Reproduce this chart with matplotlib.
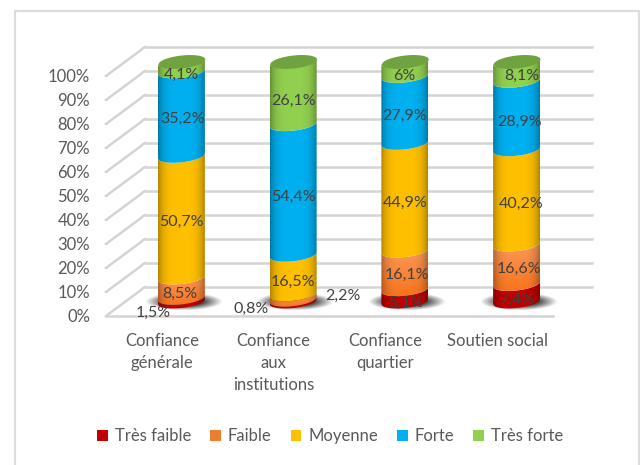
import matplotlib
matplotlib.use('Agg')
import matplotlib.pyplot as plt
from matplotlib.colors import to_rgb
from matplotlib.patches import Polygon, Rectangle
from matplotlib.lines import Line2D
import numpy as np

plt.rcParams['font.family'] = ['Lato', 'DejaVu Sans']

categories = ['Confiance\ngénérale', 'Confiance\naux\ninstitutions', 'Confiance\nquartier', 'Soutien social']
levels = ['Très faible', 'Faible', 'Moyenne', 'Forte', 'Très forte']
tres_faible = [1.5, 0.8, 5.1, 7.4]
faible = [8.5, 2.2, 16.1, 16.6]
moyenne = [50.7, 16.5, 44.9, 40.2]
forte = [35.2, 54.4, 27.9, 28.9]
tres_forte = [4.1, 26.1, 6.0, 8.1]
labels = [['1,5%', '0,8%', '5,1%', '7,4%'],
          ['8,5%', '2,2%', '16,1%', '16,6%'],
          ['50,7%', '16,5%', '44,9%', '40,2%'],
          ['35,2%', '54,4%', '27,9%', '28,9%'],
          ['4,1%', '26,1%', '6%', '8,1%']]
colors = ['#c00000', '#ed7d31', '#ffc000', '#00b0f0', '#92d050']
text_color = '#595959'
label_color = '#404040'
grid_color = '#d4d4d4'

# label shift from segment middle, pixels (one row per level)
label_shift = [[(-28, -13), (-42, -8), (1, -8), (0, -7)],
               [(-2, -6), (50, 1), (2, -5), (2, -5)],
               [(0, -5), (0, -7), (0, -6), (5, -7)],
               [(1, -5), (0, -7), (0, -7), (3, -7)],
               [(0, -8), (0, -8), (-1, -7), (5, -5)]]

W, H = 640, 465
# front plane of the 3d box, pixels
left, right, top, bottom = 106, 553, 76, 316
fig = plt.figure(figsize=(W / 100, H / 100), dpi=100)
ax = fig.add_axes([left / W, 1 - bottom / H, (right - left) / W, (bottom - top) / H])
ax.set_xlim(0, 4)
ax.set_ylim(0, 100)
ax.axis('off')

px = 4 / (right - left)
py = 100 / (bottom - top)
depth_x = 39 * px
depth_y = 29 * py
radius = 23.5 * px
half_h = 6.5 * py
tilt = 2.5 * py

# outer frame, open at the bottom
frame_x = [14.5 / W, 14.5 / W, 638.5 / W, 638.5 / W]
frame_y = [0, 1 - 11.5 / H, 1 - 11.5 / H, 0]
fig.add_artist(Line2D(frame_x, frame_y, color='#dcdcdc', lw=1.6, zorder=-5))

# floor and back wall gridlines
for v in range(0, 101, 10):
    ax.plot([0, depth_x], [v, v + depth_y], color=grid_color, lw=1.8, clip_on=False, zorder=1)
    ax.plot([depth_x, 4 + depth_x], [v + depth_y, v + depth_y], color=grid_color, lw=1.8, clip_on=False, zorder=1)
    ax.text(-16 * px, v - 0.5, f'{v}%', ha='right', va='center', color=text_color, fontsize=12, clip_on=False)
ax.plot([0, 4], [0, 0], color=grid_color, lw=1.8, clip_on=False, zorder=1)

values = np.array([tres_faible, faible, moyenne, forte, tres_forte], dtype=float)
values = values / values.sum(axis=0) * 100


def arc(xc, yc, x, lower=True):
    t = (x - xc) / radius
    s = np.sqrt(np.clip(1 - t ** 2, 0, 1)) * half_h
    return yc + t * tilt + (-s if lower else s)


def segment(xc, y0, y1, color, zorder):
    x = np.linspace(xc - radius, xc + radius, 60)
    low = arc(xc, y0, x, True)
    up = arc(xc, y1, x, True)
    poly = Polygon(np.r_[np.c_[x, low], np.c_[x[::-1], up[::-1]]], closed=True, fc='none', ec='none', zorder=zorder)
    ax.add_patch(poly)
    # shading, darker at the sides of the cylinder
    t = np.linspace(-1, 1, 60)
    shade = 1 - 0.3 * np.abs(t) ** 4
    img = np.array(to_rgb(color))[None, None, :] * shade[None, :, None]
    img = np.repeat(img, 24, axis=0)
    if color == colors[1]:
        # orange goes from pale at the top to saturated at the bottom
        ramp = np.linspace(1, 0, 24)[:, None, None]
        pale = np.array([0.98, 0.60, 0.36]) * shade[None, :, None]
        deep = np.array([0.98, 0.45, 0.10]) * shade[None, :, None]
        img = pale * ramp + deep * (1 - ramp)
    im = ax.imshow(img, extent=[xc - radius, xc + radius, y0 - half_h - tilt, y1 + tilt],
                   aspect='auto', origin='upper', zorder=zorder, interpolation='bilinear', clip_on=True)
    im.set_clip_box(fig.bbox)
    im.set_clip_path(poly)


def shadow(xc, yc):
    xs = np.linspace(-1, 1, 120)
    ys = np.linspace(-1, 1, 40)
    gx, gy = np.meshgrid(xs, ys)
    alpha = np.clip(1.9 - np.sqrt(gx ** 2 + gy ** 2) * 2.0, 0, 1) * 0.95
    rgba = np.zeros((40, 120, 4))
    rgba[..., :3] = 0.2
    rgba[..., 3] = alpha
    im = ax.imshow(rgba, extent=[xc - radius * 1.65, xc + radius * 1.8, yc - half_h * 1.5, yc + half_h * 1.3],
                   aspect='auto', zorder=2, interpolation='bilinear')
    im.set_clip_box(fig.bbox)


for i in range(4):
    xc = i + 0.5 + depth_x / 2
    y_base = depth_y / 2
    shadow(xc, y_base)
    cum = 0
    for j in range(5):
        y0 = y_base + cum
        y1 = y0 + values[j, i]
        segment(xc, y0, y1, colors[j], 3 + j * 0.1)
        mid = y0 + values[j, i] / 2
        sx, sy = label_shift[j][i]
        ax.annotate(labels[j][i], (xc, mid), xytext=(sx, sy), textcoords='offset pixels', ha='center',
                    va='center', color=label_color, fontsize=11.5, zorder=6, annotation_clip=False)
        cum += values[j, i]
    # top cap
    x = np.linspace(xc - radius, xc + radius, 60)
    yt = y_base + 100
    ax.fill_between(x, arc(xc, yt, x, True), arc(xc, yt, x, False), color='#70a23f', lw=0, zorder=4, clip_on=False)
    ax.text(i + 0.5, -16.5 * py, categories[i], ha='center', va='top', color=text_color,
            fontsize=12, linespacing=1.48, clip_on=False)

handles = [Rectangle((0, 0), 1, 1, fc=c, ec='none') for c in colors]
fig.legend(handles, levels, loc='center', bbox_to_anchor=(330 / W, 1 - 436 / H), ncol=5, frameon=False,
           fontsize=12, labelcolor=text_color, handlelength=0.65, handleheight=0.65, handletextpad=0.4,
           columnspacing=1.15)

fig.savefig('out.png', dpi=100)
